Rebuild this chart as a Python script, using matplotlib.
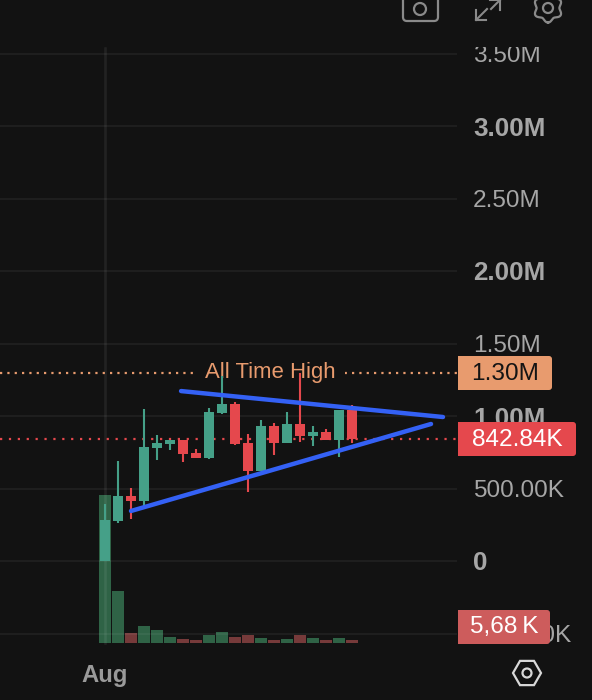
import numpy as np
import matplotlib
matplotlib.use('Agg')
import matplotlib.pyplot as plt
from matplotlib.patches import FancyBboxPatch, Rectangle, Circle, Polygon

plt.rcParams['font.family'] = ['Liberation Sans', 'DejaVu Sans']

# Candles, in millions
opens = [0.0, 0.276, 0.448, 0.414, 0.779, 0.807, 0.834, 0.745, 0.710, 1.021,
         1.083, 0.814, 0.621, 0.931, 0.814, 0.945, 0.862, 0.890, 0.834, 1.041]
closes = [0.283, 0.448, 0.414, 0.786, 0.814, 0.834, 0.738, 0.710, 1.028, 1.083,
          0.807, 0.621, 0.931, 0.814, 0.945, 0.862, 0.890, 0.834, 1.041, 0.843]
highs = [0.393, 0.690, 0.503, 1.048, 0.869, 0.834, 0.834, 0.772, 1.055, 1.276,
         1.097, 0.876, 0.972, 0.952, 1.028, 1.297, 0.931, 0.910, 1.041, 1.076]
lows = [0.0, 0.262, 0.290, 0.372, 0.697, 0.766, 0.683, 0.710, 0.703, 1.014,
        0.800, 0.476, 0.621, 0.731, 0.814, 0.821, 0.793, 0.834, 0.717, 0.814]

# Volume, in thousands
volumes = [280, 98, 19, 32, 25, 11, 7.6, 5.7, 15, 21,
           11, 15, 9.5, 5.7, 7.6, 15, 9.5, 5.68, 9.5, 5.68]

# Price axis
tick_values = [3.5, 3.0, 2.5, 2.0, 1.5, 1.0, 0.5, 0.0, -0.5]
tick_labels = ['3.50M', '3.00M', '2.50M', '2.00M', '1.50M', '1.00M', '500.00K', '0', '-500.00K']
bold_labels = ['3.00M', '2.00M', '1.00M', '0']

# Trend lines (candle index, price)
upper_x, upper_y = [5.85, 26.0], [1.172, 0.993]
lower_x, lower_y = [2.0, 25.08], [0.345, 0.945]

all_time_high = 1.30
last_price = 0.84284

BG = '#121212'
GREEN = '#45a088'
RED = '#e5484d'
VOL_GREEN = '#2f6346'
VOL_RED = '#763a3a'
TEXT = '#a6a6a6'
ORANGE = '#e89b6e'
BLUE = '#3461f5'
ICON = '#8a8a8a'

fig = plt.figure(figsize=(5.92, 7), dpi=100, facecolor=BG)

# volume underneath, price on top
ax_vol = fig.add_axes([0, 0, 457 / 592, 1], facecolor=BG)
ax = fig.add_axes([0, 0, 457 / 592, 1], sharex=ax_vol)
ax.patch.set_visible(False)
ax_vol.set_zorder(1)
ax.set_zorder(2)

x = np.arange(len(opens))
ax.set_xlim(-105 / 13, (457 - 105) / 13)
ax.set_ylim(-139 / 145, 561 / 145)
ax_vol.set_ylim(-57 * 5.68 / 3, 643 * 5.68 / 3)

vol_cols = [VOL_GREEN if c >= o else VOL_RED for o, c in zip(opens, closes)]
ax_vol.bar(x, volumes, width=0.85, color=vol_cols)
ax_vol.axis('off')

ax.grid(True, axis='y', color='white', alpha=0.05, lw=1.5)
ax.axvline(0, ymin=57 / 700, ymax=652 / 700, color='white', alpha=0.07, lw=1.8)

cols = [GREEN if c >= o else RED for o, c in zip(opens, closes)]
ax.vlines(x, lows, highs, color=cols, lw=1.5, zorder=3)
bottoms = [min(o, c) for o, c in zip(opens, closes)]
heights = [abs(c - o) for o, c in zip(opens, closes)]
ax.bar(x, heights, bottom=bottoms, width=0.77, color=cols, zorder=3)

ax.plot(upper_x, upper_y, color=BLUE, lw=3.2, solid_capstyle='round', zorder=4)
ax.plot(lower_x, lower_y, color=BLUE, lw=3.2, solid_capstyle='round', zorder=4)

ax.axhline(all_time_high, color=ORANGE, lw=1.6, ls=(0, (1, 2.3)), zorder=2)
ax.axhline(last_price, color=RED, lw=1.6, ls=(0, (1, 3)), zorder=2)
ax.text(12.75, all_time_high, 'All Time High', color=ORANGE, fontsize=15.9,
        ha='center', va='center', zorder=2.5,
        bbox=dict(facecolor=BG, edgecolor='none', pad=6.5))

ax.yaxis.tick_right()
ax.set_yticks(tick_values)
ax.set_yticklabels(tick_labels)
ax.set_xticks([0])
ax.set_xticklabels(['Aug'])
ax.tick_params(axis='y', length=0, pad=11.5, labelsize=17.6, labelcolor=TEXT)
ax.tick_params(axis='x', length=0, pad=0, labelsize=17.2, labelcolor='#9a9a9a', direction='in')
for lab in ax.get_yticklabels():
    if lab.get_text() in bold_labels:
        lab.set_fontweight('bold')
        lab.set_fontsize(18.7)
ax.get_xticklabels()[0].set_fontweight('bold')
ax.get_xticklabels()[0].set_y(0.052)
for s in ax.spines.values():
    s.set_visible(False)

# overlay in pixels for the tags and toolbar icons
top = fig.add_axes([0, 0, 1, 1], facecolor='none')
top.set_zorder(5)
top.set_xlim(0, 592)
top.set_ylim(700, 0)
top.axis('off')
top.add_patch(Rectangle((460, 0), 132, 47, facecolor=BG, edgecolor='none'))


def tag(x0, y0, w, h, col, label, txt_col):
    top.add_patch(FancyBboxPatch((x0 + 3, y0 + 3), w - 6, h - 6, boxstyle='round,pad=3',
                                 facecolor=col, edgecolor='none'))
    top.add_patch(Rectangle((x0, y0), 6, h, facecolor=col, edgecolor='none'))
    top.text(x0 + w / 2, y0 + h / 2 + 0.5, label, color=txt_col, fontsize=17.6,
             ha='center', va='center')


tag(458, 356, 94, 34, ORANGE, '1.30M', '#141414')
tag(458, 422, 118, 34, RED, '842.84K', 'white')
tag(458, 610, 92, 34, '#cd5c5c', '5,68\u2009K', 'white')

# camera
top.add_patch(FancyBboxPatch((403, -12), 35, 33, boxstyle='round,pad=0,rounding_size=4',
                             facecolor='none', edgecolor=ICON, lw=1.6))
top.add_patch(Circle((420, 9), 6, facecolor='none', edgecolor=ICON, lw=1.6))
# expand
top.plot([476, 487], [20, 9], color=ICON, lw=1.5)
top.plot([476, 476, 486], [10, 20, 20], color=ICON, lw=1.5)
top.plot([491, 500], [9, 0], color=ICON, lw=1.5)
top.plot([490, 500, 500], [0, 0, 10], color=ICON, lw=1.5)
# gear
t = np.linspace(0, 2 * np.pi, 200)
r = 13 + 1.6 * np.cos(6 * t)
top.plot(548 + r * np.sin(t), 8 + r * np.cos(t), color=ICON, lw=1.6)
top.add_patch(Circle((548, 8), 5, facecolor='none', edgecolor=ICON, lw=1.6))
# hexagon
hex_t = np.deg2rad(np.arange(0, 360, 60))
top.add_patch(Polygon(np.c_[527 + 14 * np.cos(hex_t), 673 + 14 * np.sin(hex_t)], closed=True,
                      facecolor='none', edgecolor='#d8d8d8', lw=1.6))
top.add_patch(Circle((527, 673), 4.5, facecolor='none', edgecolor='#d8d8d8', lw=1.6))

plt.savefig('out.png', dpi=100, facecolor=BG)
plt.close()
